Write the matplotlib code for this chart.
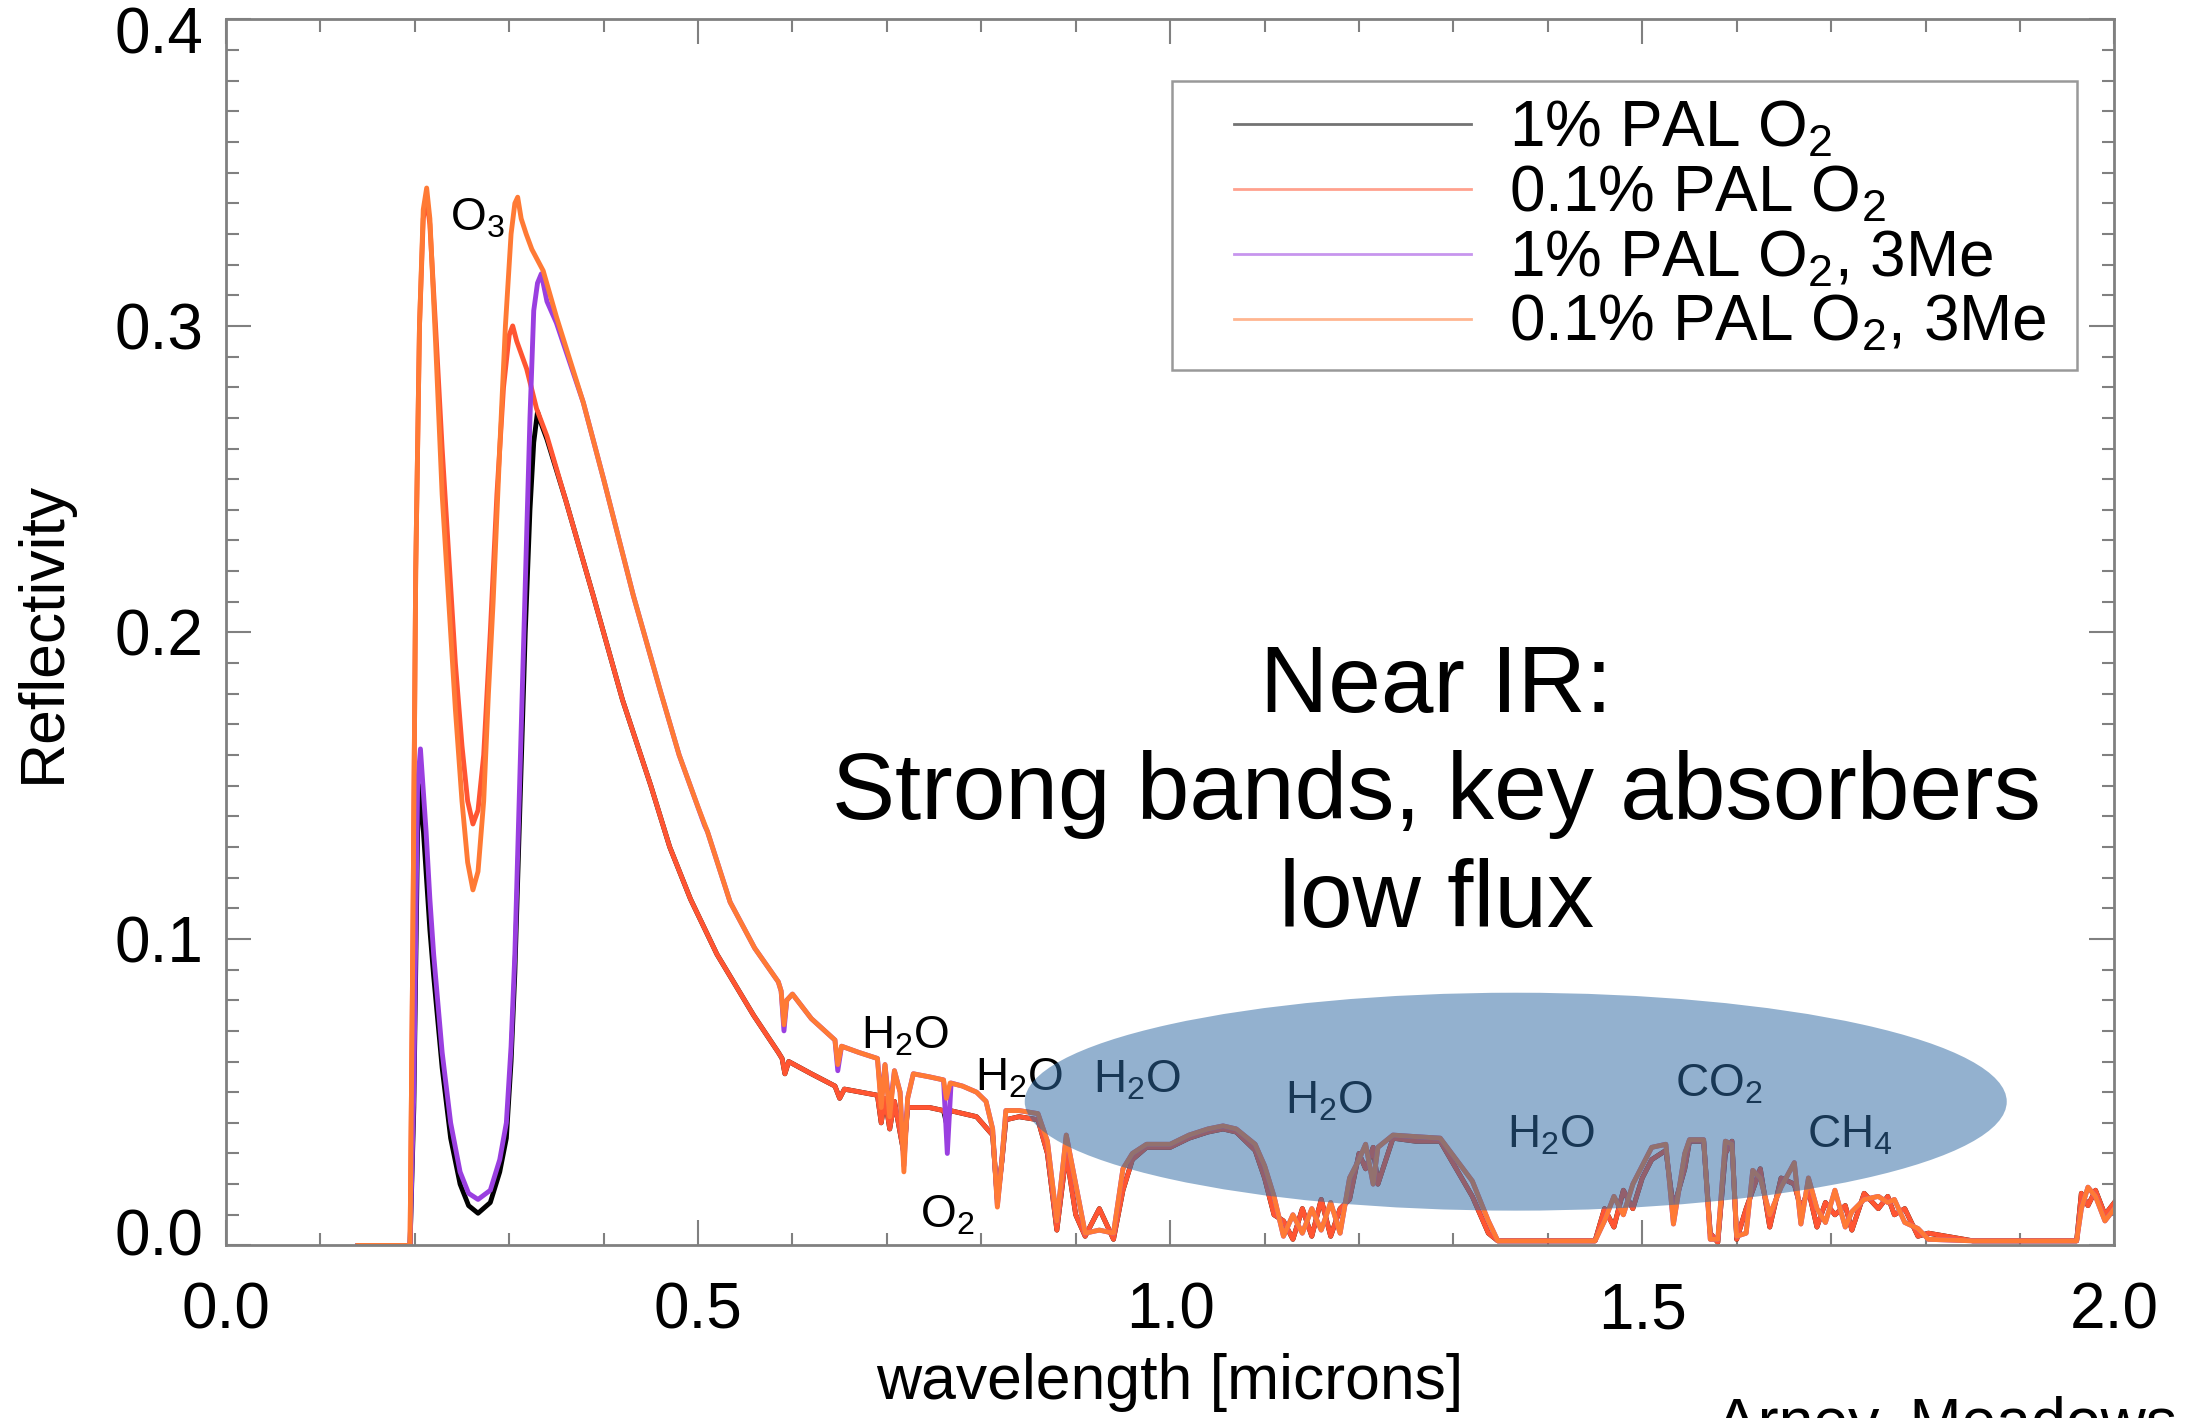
import numpy as np
import matplotlib
matplotlib.use("Agg")
import matplotlib.pyplot as plt
import matplotlib.transforms as mtrans
from matplotlib.patches import Ellipse, Rectangle

plt.rcParams['font.family'] = ['Liberation Sans', 'DejaVu Sans']
plt.rcParams['mathtext.fontset'] = 'custom'
plt.rcParams['mathtext.rm'] = 'Liberation Sans'
plt.rcParams['mathtext.it'] = 'Liberation Sans'

# ---- data (wavelength in microns, reflectivity) ----
# 1% PAL O2
bk_wl = [0.140, 0.195, 0.199, 0.203, 0.206, 0.212, 0.216, 0.220, 0.229, 0.238, 0.248, 0.257,
         0.267, 0.280, 0.290, 0.297, 0.302, 0.306, 0.311, 0.317, 0.322, 0.326, 0.330, 0.334,
         0.340, 0.360, 0.389, 0.420, 0.450, 0.470, 0.492, 0.520, 0.559, 0.585, 0.589, 0.592,
         0.596, 0.620, 0.645, 0.650, 0.655, 0.690, 0.694, 0.698, 0.703, 0.708, 0.718, 0.722,
         0.745, 0.760, 0.763, 0.767, 0.795, 0.812, 0.817, 0.822, 0.826, 0.840]
bk_refl = [0.0, 0.0, 0.045, 0.135, 0.150, 0.122, 0.103, 0.088, 0.058, 0.035, 0.020, 0.013,
           0.0105, 0.014, 0.024, 0.035, 0.060, 0.089, 0.140, 0.200, 0.240, 0.262, 0.272, 0.268,
           0.263, 0.243, 0.212, 0.178, 0.150, 0.130, 0.113, 0.095, 0.075, 0.063, 0.061, 0.056,
           0.060, 0.056, 0.052, 0.048, 0.051, 0.049, 0.040, 0.048, 0.038, 0.047, 0.030, 0.045,
           0.045, 0.044, 0.040, 0.044, 0.042, 0.036, 0.015, 0.028, 0.041, 0.042]

# 0.1% PAL O2
rd_wl = [0.140, 0.195, 0.198, 0.201, 0.205, 0.209, 0.2126, 0.216, 0.222, 0.229, 0.236, 0.243,
         0.250, 0.256, 0.2616, 0.267, 0.273, 0.280, 0.287, 0.294, 0.300, 0.3037, 0.308, 0.3185,
         0.329, 0.340, 0.360, 0.389, 0.420, 0.450, 0.470, 0.492, 0.520, 0.559, 0.585, 0.589,
         0.592, 0.596, 0.620, 0.645, 0.650, 0.655, 0.690, 0.694, 0.698, 0.703, 0.708, 0.718,
         0.722, 0.745, 0.760, 0.763, 0.767, 0.795, 0.812, 0.817, 0.822, 0.826, 0.840]
rd_refl = [0.0, 0.0, 0.100, 0.220, 0.300, 0.335, 0.342, 0.333, 0.300, 0.260, 0.225, 0.190,
           0.163, 0.145, 0.1375, 0.142, 0.160, 0.200, 0.245, 0.280, 0.297, 0.300, 0.295, 0.286,
           0.273, 0.264, 0.243, 0.212, 0.178, 0.150, 0.130, 0.113, 0.095, 0.075, 0.063, 0.061,
           0.056, 0.060, 0.056, 0.052, 0.048, 0.051, 0.049, 0.040, 0.048, 0.038, 0.047, 0.030,
           0.045, 0.045, 0.044, 0.042, 0.044, 0.042, 0.036, 0.015, 0.028, 0.041, 0.042]

# 1% PAL O2, 3Me
pu_wl = [0.140, 0.195, 0.199, 0.203, 0.206, 0.212, 0.216, 0.220, 0.229, 0.238, 0.248, 0.257,
         0.267, 0.280, 0.290, 0.297, 0.302, 0.306, 0.311, 0.317, 0.322, 0.326, 0.330, 0.334,
         0.340, 0.350, 0.3785, 0.400, 0.4315, 0.460, 0.480, 0.500, 0.507, 0.510, 0.534, 0.560,
         0.585, 0.588, 0.591, 0.594, 0.600, 0.620, 0.645, 0.648, 0.652, 0.670, 0.690, 0.694,
         0.698, 0.703, 0.708, 0.714, 0.718, 0.722, 0.728, 0.745, 0.760, 0.764, 0.768, 0.780,
         0.795, 0.805, 0.812, 0.817, 0.821, 0.826, 0.840]
pu_refl = [0.0, 0.0, 0.050, 0.150, 0.162, 0.135, 0.113, 0.095, 0.063, 0.040, 0.024, 0.017,
           0.015, 0.018, 0.028, 0.040, 0.065, 0.095, 0.150, 0.215, 0.270, 0.305, 0.314, 0.317,
           0.308, 0.301, 0.275, 0.250, 0.212, 0.181, 0.160, 0.143, 0.137, 0.135, 0.112, 0.097,
           0.086, 0.083, 0.070, 0.080, 0.082, 0.074, 0.067, 0.057, 0.065, 0.063, 0.061, 0.047,
           0.059, 0.044, 0.057, 0.050, 0.026, 0.048, 0.056, 0.055, 0.054, 0.030, 0.053, 0.052,
           0.050, 0.047, 0.038, 0.013, 0.025, 0.044, 0.044]

# 0.1% PAL O2, 3Me
og_wl = [0.140, 0.195, 0.198, 0.201, 0.205, 0.209, 0.2126, 0.216, 0.222, 0.229, 0.236, 0.243,
         0.250, 0.256, 0.2616, 0.267, 0.273, 0.278, 0.283, 0.290, 0.296, 0.302, 0.306, 0.309,
         0.3127, 0.318, 0.324, 0.336, 0.350, 0.3785, 0.400, 0.4315, 0.460, 0.480, 0.500, 0.510,
         0.534, 0.560, 0.585, 0.588, 0.591, 0.594, 0.600, 0.620, 0.645, 0.648, 0.652, 0.670,
         0.690, 0.694, 0.698, 0.703, 0.708, 0.714, 0.718, 0.722, 0.728, 0.745, 0.760, 0.763,
         0.767, 0.780, 0.795, 0.805, 0.812, 0.817, 0.821, 0.826, 0.840]
og_refl = [0.0, 0.0, 0.100, 0.220, 0.300, 0.338, 0.345, 0.335, 0.295, 0.245, 0.210, 0.175,
           0.145, 0.125, 0.116, 0.122, 0.145, 0.180, 0.210, 0.260, 0.300, 0.330, 0.340, 0.342,
           0.335, 0.330, 0.325, 0.318, 0.303, 0.275, 0.250, 0.212, 0.181, 0.160, 0.143, 0.135,
           0.112, 0.097, 0.086, 0.083, 0.072, 0.080, 0.082, 0.074, 0.067, 0.059, 0.065, 0.063,
           0.061, 0.045, 0.059, 0.042, 0.057, 0.050, 0.024, 0.048, 0.056, 0.055, 0.054, 0.048,
           0.053, 0.052, 0.050, 0.047, 0.038, 0.0125, 0.025, 0.044, 0.044]

# near-IR part: 3Me models (purple/orange) and 1 Earth-mass models (black/red)
nir_wl = [0.860, 0.870, 0.880, 0.890, 0.900, 0.910, 0.925, 0.940, 0.950, 0.960, 0.975, 1.000,
          1.020, 1.040, 1.056, 1.070, 1.090, 1.100, 1.110, 1.120, 1.130, 1.140, 1.150, 1.160,
          1.170, 1.180, 1.190, 1.200, 1.207, 1.215, 1.220, 1.236, 1.260, 1.286, 1.303, 1.320,
          1.337, 1.347, 1.400, 1.450, 1.460, 1.470, 1.480, 1.490, 1.500, 1.510, 1.525, 1.533,
          1.545, 1.550, 1.565, 1.572, 1.580, 1.588, 1.595, 1.600, 1.610, 1.617, 1.625, 1.635,
          1.647, 1.661, 1.668, 1.676, 1.685, 1.694, 1.704, 1.715, 1.722, 1.735, 1.750, 1.760,
          1.767, 1.778, 1.792, 1.803, 1.850, 1.900, 1.960, 1.965, 1.972, 1.980, 1.990, 2.000]
nir_refl_3me = [0.043, 0.034, 0.008, 0.036, 0.020, 0.004, 0.005, 0.004, 0.025, 0.030, 0.033, 0.033,
                0.036, 0.038, 0.039, 0.038, 0.033, 0.026, 0.016, 0.003, 0.010, 0.004, 0.012, 0.005,
                0.014, 0.004, 0.022, 0.028, 0.033, 0.020, 0.032, 0.036, 0.0355, 0.035, 0.028, 0.021,
                0.008, 0.0015, 0.0015, 0.0015, 0.008, 0.016, 0.010, 0.020, 0.026, 0.032, 0.033, 0.007,
                0.030, 0.0345, 0.0345, 0.002, 0.002, 0.034, 0.033, 0.003, 0.004, 0.0245, 0.022, 0.010,
                0.019, 0.027, 0.007, 0.022, 0.012, 0.0075, 0.018, 0.006, 0.011, 0.015, 0.016, 0.014,
                0.015, 0.0075, 0.0055, 0.002, 0.0015, 0.0015, 0.0015, 0.012, 0.019, 0.016, 0.008, 0.012]
nir_refl_1me = [0.041, 0.030, 0.005, 0.030, 0.010, 0.003, 0.012, 0.002, 0.018, 0.028, 0.032, 0.032,
                0.035, 0.037, 0.038, 0.037, 0.031, 0.022, 0.010, 0.008, 0.002, 0.012, 0.003, 0.015,
                0.003, 0.012, 0.015, 0.030, 0.025, 0.032, 0.020, 0.035, 0.034, 0.034, 0.025, 0.016,
                0.004, 0.0015, 0.0015, 0.0015, 0.012, 0.006, 0.018, 0.012, 0.022, 0.028, 0.031, 0.012,
                0.025, 0.034, 0.034, 0.004, 0.001, 0.030, 0.034, 0.002, 0.012, 0.018, 0.025, 0.006,
                0.022, 0.020, 0.012, 0.018, 0.006, 0.014, 0.010, 0.013, 0.005, 0.017, 0.012, 0.016,
                0.010, 0.012, 0.003, 0.004, 0.0015, 0.0015, 0.0015, 0.017, 0.013, 0.018, 0.010, 0.014]

labels = ['1% PAL O$_2$', '0.1% PAL O$_2$', '1% PAL O$_2$, 3Me', '0.1% PAL O$_2$, 3Me']
colors = ['#000000', '#ff5532', '#9a3fe0', '#ff7a35']

fig = plt.figure(figsize=(21.87, 14.18), dpi=100)
ax = fig.add_axes([0.1033, 0.1217, 0.8635, 0.8646])

series = [(bk_wl, bk_refl, nir_refl_1me), (rd_wl, rd_refl, nir_refl_1me),
          (pu_wl, pu_refl, nir_refl_3me), (og_wl, og_refl, nir_refl_3me)]
for (wl, rf, nir), lab, c in zip(series, labels, colors):
    x = np.concatenate([wl, nir_wl])
    y = np.concatenate([rf, nir])
    ax.plot(x, y, color=c, lw=3.5, label=lab, zorder=2)

ax.set_xlim(0, 2.0)
ax.set_ylim(0, 0.4)
ax.set_xticks([0.0, 0.5, 1.0, 1.5, 2.0])
ax.set_xticklabels(['0.0', '0.5', '1.0', '1.5', '2.0'])
ax.set_yticks([0.0, 0.1, 0.2, 0.3, 0.4])
ax.set_yticklabels(['0.0', '0.1', '0.2', '0.3', '0.4'])
ax.set_xticks(np.arange(0, 2.01, 0.1), minor=True)
ax.set_yticks(np.arange(0, 0.401, 0.01), minor=True)
ax.tick_params(which='both', direction='in', top=True, right=True, color='#808080',
               width=1.5, labelsize=46)
ax.tick_params(axis='x', which='both', pad=26)
ax.tick_params(axis='y', which='both', pad=16)
ax.tick_params(which='major', length=18)
ax.tick_params(which='minor', length=9)
for s in ax.spines.values():
    s.set_color('#808080')
    s.set_linewidth(2)

# the end labels of the y axis sit a little inside, as in the original
ylabs = ax.get_yticklabels()
ylabs[0].set_transform(ylabs[0].get_transform() +
                       mtrans.ScaledTranslation(0, 13 / 100, fig.dpi_scale_trans))
ylabs[-1].set_transform(ylabs[-1].get_transform() +
                        mtrans.ScaledTranslation(0, -11 / 100, fig.dpi_scale_trans))

ax.set_xlabel('wavelength [microns]', fontsize=45, labelpad=8)
ax.set_ylabel('Reflectivity', fontsize=45, labelpad=30)

# legend box drawn separately so the wide left margin matches
ax.add_patch(Rectangle((0.501, 0.714), 0.479, 0.236, transform=ax.transAxes, fill=False,
                       edgecolor='#999999', lw=1.8, zorder=7))
leg = ax.legend(loc='upper left', bbox_to_anchor=(0.534, 0.935), fontsize=46, frameon=False,
                handlelength=3.7, handletextpad=0.6, labelspacing=0.075, borderpad=0,
                borderaxespad=0)
for ln in leg.get_lines():
    ln.set_linewidth(2)
    ln.set_alpha(0.55)

# absorber labels (under the ellipse)
mol = [('O$_3$', 0.237, 0.331), ('H$_2$O', 0.673, 0.0644), ('H$_2$O', 0.793, 0.0507),
       ('O$_2$', 0.735, 0.0057), ('H$_2$O', 0.918, 0.050), ('H$_2$O', 1.122, 0.0432),
       ('H$_2$O', 1.357, 0.0318), ('CO$_2$', 1.535, 0.0485), ('CH$_4$', 1.674, 0.0318)]
for t, x, y in mol:
    ax.text(x, y, t, fontsize=33, ha='left', va='baseline', color='black', zorder=4)

ax.add_patch(Ellipse((1.366, 0.0469), 1.04, 0.0711, facecolor='#306aa3', alpha=0.52,
                     edgecolor='none', zorder=5))

ax.text(1.282, 0.147, 'Near IR:\nStrong bands, key absorbers\nlow flux', fontsize=68,
        ha='center', va='center', linespacing=1.27, zorder=6)

fig.text(0.7846, -0.017, 'Arney, Meadows et al.', fontsize=45, ha='left', va='baseline')

fig.savefig('out.png', dpi=100)
